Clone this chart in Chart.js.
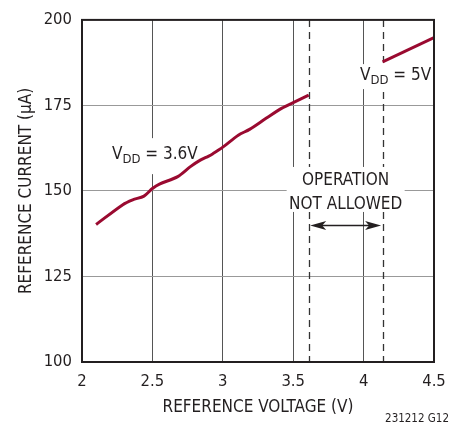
<!DOCTYPE html>
<html><head><meta charset="utf-8">
<script src="https://cdn.jsdelivr.net/npm/chart.js@4/dist/chart.umd.min.js"></script>
<style>html,body{margin:0;padding:0;background:#fff}</style>
</head><body>
<canvas id="c" width="460" height="425"></canvas>
<script>
// ---- data ----
const voltage36 = [2.10, 2.29, 2.36, 2.44, 2.50, 2.55, 2.68, 2.77, 2.84, 2.90, 2.93, 3.00, 3.11, 3.19, 3.31, 3.42, 3.50, 3.61];
const current36 = [140.2, 146.0, 147.4, 148.5, 150.7, 152.0, 154.2, 157.1, 159.0, 160.2, 160.9, 162.8, 166.3, 168.0, 171.3, 174.2, 175.8, 178.0];
const voltage5 = [4.135, 4.50];
const current5 = [187.7, 194.8];
const xTicks = [2, 2.5, 3, 3.5, 4, 4.5];
const xTickLabels = ['2', '2.5', '3', '3.5', '4', '4.5'];
const yTicks = [100, 125, 150, 175, 200];
const yTickLabels = ['100', '125', '150', '175', '200'];
const limit36 = 3.61;   // upper limit of VDD = 3.6V operation
const limit5 = 4.135;   // lower limit of VDD = 5V operation

const FONT = "'Liberation Sans Narrow', 'DejaVu Sans Condensed', sans-serif";
const INK = '#231f20';
const CURVE = '#9a0a30';

function pts(xs, ys) { return xs.map((x, i) => ({x: x, y: ys[i]})); }

function drawVdd(ctx, x, y, sub, rest) {
  ctx.textBaseline = 'alphabetic';
  ctx.textAlign = 'left';
  ctx.fillStyle = INK;
  ctx.font = '17px ' + FONT;
  ctx.fillText('V', x, y);
  let w = ctx.measureText('V').width;
  ctx.font = '13px ' + FONT;
  ctx.fillText(sub, x + w, y + 4);
  w += ctx.measureText(sub).width;
  ctx.font = '17px ' + FONT;
  ctx.fillText(rest, x + w, y);
  w += ctx.measureText(rest).width;
  return w;
}

const overlay = {
  id: 'overlay',
  beforeDatasetsDraw(chart) {
    const ctx = chart.ctx, xs = chart.scales.x, ys = chart.scales.y, a = chart.chartArea;
    ctx.save();
    // dashed limits
    ctx.strokeStyle = '#333';
    ctx.lineWidth = 1.3;
    ctx.setLineDash([7, 5]);
    [limit36, limit5].forEach(v => {
      const px = Math.round(xs.getPixelForValue(v)) + 0.5;
      ctx.beginPath(); ctx.moveTo(px, a.top); ctx.lineTo(px, a.bottom); ctx.stroke();
    });
    ctx.setLineDash([]);
    // "OPERATION NOT ALLOWED" box
    const cx = (xs.getPixelForValue(limit36) + xs.getPixelForValue(limit5)) / 2;
    const yMid = ys.getPixelForValue(150);
    ctx.fillStyle = '#fff';
    ctx.fillRect(cx - 59, yMid - 24, 118, 45);
    ctx.fillStyle = INK;
    ctx.font = '17px ' + FONT;
    ctx.textAlign = 'center';
    ctx.textBaseline = 'alphabetic';
    ctx.fillText('OPERATION', cx, yMid - 5.5);
    ctx.fillText('NOT ALLOWED', cx, yMid + 18);
    // double arrow
    const ay = Math.round(ys.getPixelForValue(140)) + 0.5;
    const x1 = xs.getPixelForValue(limit36) + 1.5, x2 = xs.getPixelForValue(limit5) - 1.5;
    ctx.strokeStyle = INK; ctx.lineWidth = 1.3;
    ctx.beginPath(); ctx.moveTo(x1 + 8, ay); ctx.lineTo(x2 - 8, ay); ctx.stroke();
    ctx.beginPath(); ctx.moveTo(x1, ay); ctx.lineTo(x1 + 16, ay - 4.5); ctx.lineTo(x1 + 12, ay); ctx.lineTo(x1 + 16, ay + 4.5); ctx.closePath(); ctx.fill();
    ctx.beginPath(); ctx.moveTo(x2, ay); ctx.lineTo(x2 - 16, ay - 4.5); ctx.lineTo(x2 - 12, ay); ctx.lineTo(x2 - 16, ay + 4.5); ctx.closePath(); ctx.fill();
    // VDD = 3.6V label
    let lx = xs.getPixelForValue(2.213), ly = ys.getPixelForValue(159.3);
    ctx.fillStyle = '#fff';
    ctx.fillRect(lx - 4, ly - 21, 88, 36);
    drawVdd(ctx, lx, ly, 'DD', ' = 3.6V');
    // VDD = 5V label
    lx = xs.getPixelForValue(3.974); ly = ys.getPixelForValue(182.4);
    ctx.fillStyle = '#fff';
    ctx.fillRect(lx - 3, ly - 16, 72, 25);
    drawVdd(ctx, lx, ly, 'DD', ' = 5V');
    ctx.restore();
  },
  afterDatasetsDraw(chart) {
    const ctx = chart.ctx, a = chart.chartArea;
    ctx.save();
    ctx.strokeStyle = INK;
    ctx.lineWidth = 2;
    ctx.strokeRect(a.left, a.top, a.right - a.left, a.bottom - a.top);
    ctx.fillStyle = INK;
    ctx.font = '11.5px ' + FONT;
    ctx.textAlign = 'right';
    ctx.textBaseline = 'alphabetic';
    ctx.fillText('231212 G12', 449, 422);
    ctx.restore();
  }
};

new Chart(document.getElementById('c'), {
  type: 'scatter',
  data: {
    datasets: [
      { label: 'VDD = 3.6V', data: pts(voltage36, current36), showLine: true, borderColor: CURVE, borderWidth: 3, pointRadius: 0, tension: 0.3, borderCapStyle: 'butt' },
      { label: 'VDD = 5V', data: pts(voltage5, current5), showLine: true, borderColor: CURVE, borderWidth: 3, pointRadius: 0, borderCapStyle: 'butt' }
    ]
  },
  options: {
    responsive: false,
    animation: false,
    devicePixelRatio: 1,
    layout: { padding: { top: 11, right: 26, left: 0, bottom: 0 } },
    plugins: { legend: { display: false }, tooltip: { enabled: false } },
    scales: {
      x: {
        type: 'linear', min: 2, max: 4.5,
        afterBuildTicks: s => { s.ticks = xTicks.map(v => ({value: v})); },
        afterFit: s => { s.height = 63; },
        ticks: { callback: (v, i) => xTickLabels[i], color: INK, font: { family: FONT, size: 16.5 }, padding: 10, maxRotation: 0, autoSkip: false },
        grid: { color: '#555', lineWidth: 1, drawTicks: false },
        border: { display: false },
        title: { display: true, text: 'REFERENCE VOLTAGE (V)', color: INK, font: { family: FONT, size: 17 }, padding: { top: 0, bottom: 7 } }
      },
      y: {
        type: 'linear', min: 100, max: 200,
        afterBuildTicks: s => { s.ticks = yTicks.map(v => ({value: v})); },
        afterFit: s => { s.width = 82; },
        ticks: { callback: (v, i) => yTickLabels[i], color: INK, font: { family: FONT, size: 16.5 }, padding: 10, autoSkip: false },
        grid: { color: '#999', lineWidth: 1, drawTicks: false },
        border: { display: false },
        title: { display: true, text: 'REFERENCE CURRENT (μA)', color: INK, font: { family: FONT, size: 17 }, padding: { top: 16, bottom: 0 } }
      }
    }
  },
  plugins: [overlay]
});
</script>
</body></html>
